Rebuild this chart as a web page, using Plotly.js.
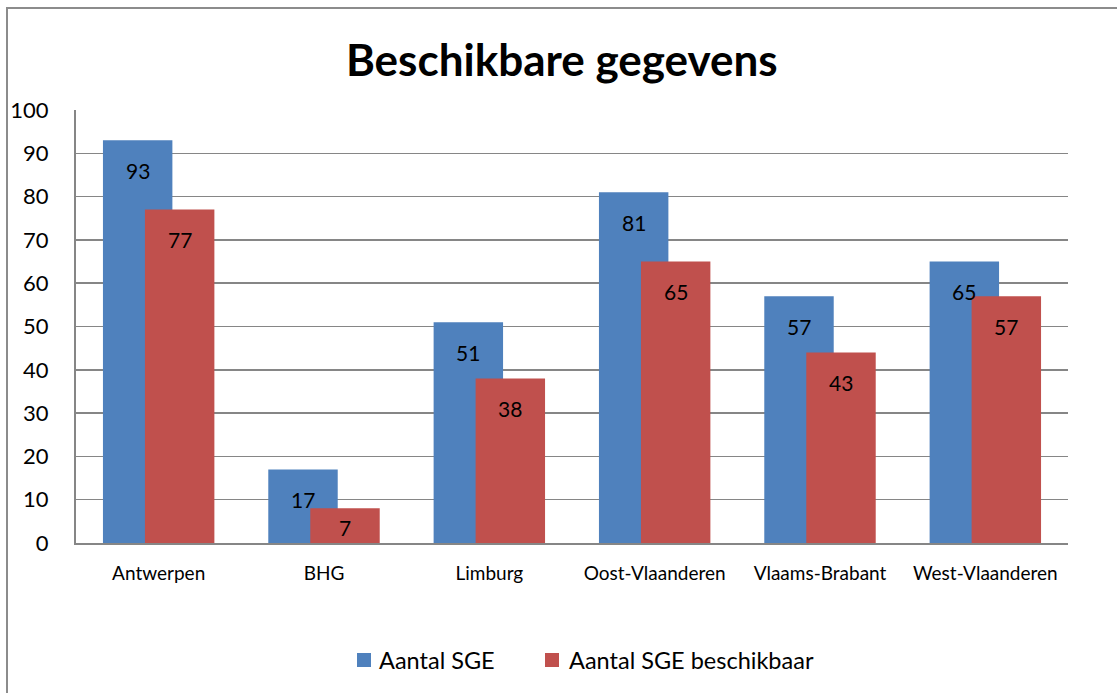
<!DOCTYPE html>
<html>
<head>
<meta charset="utf-8">
<script src="https://cdn.plot.ly/plotly-3.0.1.min.js"></script>
<style>
  html, body { margin: 0; padding: 0; background: #ffffff; overflow: hidden; }
  #frame { position: absolute; left: 6px; top: 7px; width: 1200px; height: 800px;
           border-left: 2px solid #8c8c8c; border-top: 2px solid #8c8c8c; }
  #chart { position: absolute; left: 0; top: 0; width: 1117px; height: 693px; }
</style>
</head>
<body>
<div id="frame"></div>
<div id="chart"></div>
<script>
const categories = ["Antwerpen", "BHG", "Limburg", "Oost-Vlaanderen", "Vlaams-Brabant", "West-Vlaanderen"];
const seriesNames = ["Aantal SGE", "Aantal SGE beschikbaar"];
const aantalSGE = [93, 17, 51, 81, 57, 65];
const aantalSGEBeschikbaar = [77, 8, 38, 65, 44, 57];
const labelsSGE = ["93", "17", "51", "81", "57", "65"];
const labelsBeschikbaar = ["77", "7", "38", "65", "43", "57"];
const yTickVals = [0, 10, 20, 30, 40, 50, 60, 70, 80, 90, 100];

const blue = "#4F81BD";
const red = "#C0504D";
const colors = [blue, red];
const barWidth = 0.42;
const blueOffset = -0.337;
const redOffset = -0.083;

const W = 1117, H = 693;
const mL = 76, mR = 49, mT = 110, mB = 150;
const plotW = W - mL - mR, plotH = H - mT - mB;
const pxPerUnit = plotH / 100;
const px2paperX = px => (px - mL) / plotW;
const px2paperY = py => (H - mB - py) / plotH;

const traces = [
  {
    type: "bar", name: seriesNames[0], x: categories, y: aantalSGE,
    width: barWidth, offset: blueOffset,
    marker: { color: blue }, hoverinfo: "x+y"
  },
  {
    type: "bar", name: seriesNames[1], x: categories, y: aantalSGEBeschikbaar,
    width: barWidth, offset: redOffset,
    marker: { color: red }, hoverinfo: "x+y"
  }
];

const annotations = [];
function addLabels(values, labels, offset) {
  values.forEach((v, i) => {
    const h = v * pxPerUnit;
    annotations.push({
      x: i + offset + barWidth / 2, y: v, xref: "x", yref: "y",
      text: labels[i], showarrow: false,
      yanchor: "middle", xanchor: "center",
      yshift: -Math.min(30, h / 2 + 2),
      font: { family: "Lato, sans-serif", size: 21, color: "#000000" }
    });
  });
}
addLabels(aantalSGE, labelsSGE, blueOffset);
addLabels(aantalSGEBeschikbaar, labelsBeschikbaar, redOffset);

// custom legend (square marker + name), positioned like the original
const legendSquareX = [357, 545];
const legendTextX = [377, 567];
const legendCY = 660;
const sq = 14;
const shapes = [];
seriesNames.forEach((name, k) => {
  shapes.push({
    type: "rect", xref: "paper", yref: "paper", layer: "above",
    x0: px2paperX(legendSquareX[k]), x1: px2paperX(legendSquareX[k] + sq),
    y0: px2paperY(legendCY + sq / 2), y1: px2paperY(legendCY - sq / 2),
    fillcolor: colors[k], line: { width: 0 }
  });
  annotations.push({
    xref: "paper", yref: "paper",
    x: px2paperX(legendTextX[k]), y: px2paperY(legendCY),
    xanchor: "left", yanchor: "middle", showarrow: false,
    text: name,
    font: { family: "Lato, sans-serif", size: 23.5, color: "#000000" }
  });
});

const layout = {
  width: W, height: H,
  paper_bgcolor: "rgba(0,0,0,0)", plot_bgcolor: "rgba(0,0,0,0)",
  margin: { l: mL, r: mR, t: mT, b: mB },
  title: {
    text: "<b>Beschikbare gegevens</b>",
    font: { family: "Lato, sans-serif", size: 44, color: "#000000" },
    x: 0.503, xanchor: "center", y: 0.913, yanchor: "middle"
  },
  barmode: "overlay",
  showlegend: false,
  xaxis: {
    type: "category", range: [-0.5, 5.5],
    showgrid: false, zeroline: false,
    showline: true, linecolor: "#868686", linewidth: 2,
    ticks: "", tickfont: { family: "Lato, sans-serif", size: 19, color: "#000000" },
    ticklabelstandoff: 12
  },
  yaxis: {
    range: [0, 100], tickvals: yTickVals, ticktext: yTickVals.map(String),
    showgrid: true, gridcolor: "#868686", gridwidth: 1.5,
    zeroline: false, showline: true, linecolor: "#868686", linewidth: 2,
    mirror: false, ticks: "",
    tickfont: { family: "Lato, sans-serif", size: 22, color: "#000000" },
    ticklabelstandoff: 21
  },
  shapes: shapes,
  annotations: annotations
};

Plotly.newPlot("chart", traces, layout, { displayModeBar: false, staticPlot: true });
</script>
</body>
</html>
